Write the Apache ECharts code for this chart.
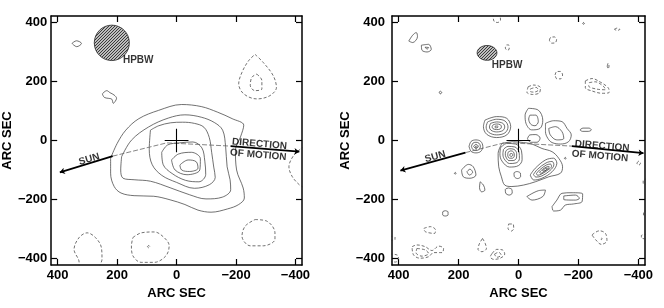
<!DOCTYPE html>
<html><head><meta charset="utf-8">
<script src="https://cdn.jsdelivr.net/npm/echarts@6/dist/echarts.min.js"></script>
<style>html,body{margin:0;padding:0;background:#fff}#c{width:664px;height:308px}</style>
</head><body><div id="c"></div>
<script>
// ---------- data (arc seconds) ----------
const tickValues = [-400, -200, 0, 200, 400];
const axisTitle = 'ARC SEC';

// left panel: positive (solid) contours
const leftSolid = [
  [[222,-60],[200,-10],[171,35],[127,74],[61,102],[-17,122],[-83,115],[-138,96],[-187,74],[-226,52],[-215,12],[-198,-32],[-202,-100],[-224,-161],[-228,-195],[-209,-217],[-171,-232],[-116,-243],[-72,-236],[-28,-217],[22,-201],[77,-189],[143,-187],[187,-178],[210,-156],[222,-111],[222,-60]],
  [[185,-55],[152,1],[94,46],[28,76],[-28,87],[-83,79],[-127,61],[-155,35],[-165,-21],[-170,-89],[-180,-133],[-182,-167],[-154,-192],[-99,-198],[-44,-184],[22,-160],[88,-138],[143,-133],[180,-128],[188,-100],[185,-55]],
  [[88,35],[60,50],[20,60],[-20,62],[-60,58],[-92,45],[-110,10],[-118,-40],[-125,-90],[-130,-125],[-110,-150],[-60,-162],[0,-142],[50,-118],[82,-82],[92,-30],[88,35]],
  [[50,-40],[30,-15],[-10,-8],[-55,-5],[-85,-25],[-95,-70],[-98,-115],[-75,-140],[-30,-135],[15,-112],[45,-82],[50,-40]],
  [[17,-66],[-6,-46],[-50,-40],[-80,-62],[-78,-100],[-35,-116],[5,-100],[17,-66]],
  [[-11,-83],[-39,-66],[-66,-72],[-72,-94],[-44,-105],[-17,-100],[-11,-83]],
  [[352,329],[337,338],[320,329],[336,318],[352,329]],
  [[250,158],[235,169],[224,162],[210,154],[202,143],[207,132],[213,126],[218,140],[230,143],[243,146],[250,158]]
];
// left panel: negative (dashed) contours
const leftDashed = [
  [[-264,292],[-292,264],[-325,220],[-336,180],[-314,152],[-270,141],[-226,158],[-209,192],[-220,231],[-242,270],[-264,292]],
  [[-270,225],[-287,203],[-287,175],[-264,169],[-248,186],[-253,214],[-270,225]],
  [[-430,-20],[-413,-32],[-391,-55],[-378,-89],[-389,-122],[-413,-150],[-430,-160]],
  [[-264,-268],[-303,-273],[-331,-313],[-331,-335],[-292,-357],[-248,-357],[-220,-324],[-231,-290],[-264,-268]],
  [[328,-430],[328,-413],[345,-369],[328,-329],[301,-313],[273,-329],[253,-363],[251,-402],[262,-430]],
  [[147,-329],[119,-313],[75,-310],[42,-329],[25,-357],[36,-391],[75,-413],[119,-413],[147,-391],[152,-357],[147,-329]],
  [[98,-360],[94,-356],[90,-360],[94,-364],[98,-360]]
];

// right panel: positive (solid) contours
const rightSolid = [
  [[366,337],[353,357],[341,366],[337,352],[353,332],[366,337]],
  [[324,323],[300,326],[291,309],[305,300],[322,306],[324,323]],
  [[312,316],[300,315],[304,310],[312,316]],
  [[265,164],[260,167],[256,162],[261,158],[265,164]],
  [[112,69],[73,81],[39,75],[26,47],[39,19],[73,10],[106,21],[117,47],[112,69]],
  [[103,63],[73,72],[45,66],[35,46],[45,26],[73,19],[100,28],[108,46],[103,63]],
  [[93,58],[73,63],[52,58],[46,46],[52,34],[73,29],[92,35],[97,46],[93,58]],
  [[85,53],[73,56],[60,53],[57,46],[61,39],[73,37],[85,40],[88,46],[85,53]],
  [[78,49],[70,49],[68,46],[72,43],[78,44],[78,49]],
  [[165,-20],[158,-3],[142,2],[126,-3],[119,-20],[126,-37],[142,-42],[158,-37],[165,-20]],
  [[157,-20],[152,-9],[142,-6],[132,-9],[127,-20],[132,-31],[142,-34],[152,-31],[157,-20]],
  [[150,-20],[142,-13],[134,-20],[142,-27],[150,-20]],
  [[145,-22],[141,-18],[138,-23],[143,-25],[145,-22]],
  [[190,-100],[167,-81],[151,-89],[142,-117],[162,-128],[184,-123],[190,-100]],
  [[172,-106],[162,-97],[153,-108],[164,-117],[172,-106]],
  [[128,-140],[117,-151],[112,-168],[123,-174],[130,-160],[128,-140]],
  [[211,-108],[208,-111],[211,-114],[214,-111],[211,-108]],
  [[-33,109],[-66,103],[-81,69],[-72,41],[-44,36],[-25,58],[-22,86],[-33,109]],
  [[-38,86],[-58,86],[-66,64],[-55,50],[-41,55],[-34,73],[-38,86]],
  [[55,-10],[68,-44],[66,-89],[57,-123],[46,-151],[22,-156],[-17,-151],[-56,-140],[-101,-123],[-140,-111],[-147,-89],[-134,-60],[-112,-38],[-78,-27],[-45,-12],[-17,-7],[16,-4],[55,-10]],
  [[60,-25],[40,-10],[10,-12],[-10,-35],[-12,-65],[0,-85],[30,-90],[55,-70],[62,-45],[60,-25]],
  [[50,-30],[35,-20],[12,-22],[-2,-40],[-3,-62],[8,-76],[30,-78],[48,-62],[52,-45],[50,-30]],
  [[42,-35],[30,-28],[15,-30],[6,-45],[7,-60],[18,-68],[32,-68],[42,-56],[44,-45],[42,-35]],
  [[35,-40],[25,-35],[16,-40],[14,-52],[20,-60],[30,-60],[36,-50],[35,-40]],
  [[28,-45],[22,-44],[19,-50],[24,-54],[29,-51],[28,-45]],
  [[-39,-117],[-56,-94],[-90,-66],[-117,-60],[-128,-77],[-112,-106],[-78,-128],[-51,-134],[-39,-117]],
  [[-50,-115],[-63,-98],[-92,-76],[-112,-71],[-118,-82],[-105,-102],[-78,-120],[-58,-124],[-50,-115]],
  [[-60,-112],[-70,-100],[-93,-83],[-107,-80],[-110,-88],[-98,-100],[-78,-113],[-64,-118],[-60,-112]],
  [[-70,-108],[-80,-98],[-95,-89],[-102,-88],[-100,-95],[-88,-103],[-75,-111],[-70,-108]],
  [[-80,-102],[-90,-95],[-96,-93],[-93,-99],[-84,-104],[-80,-102]],
  [[5,-105],[-6,-110],[-7,-122],[3,-129],[14,-122],[15,-110],[5,-105]],
  [[33,-161],[22,-166],[21,-178],[31,-185],[43,-178],[44,-166],[33,-161]],
  [[-28,-190],[-67,-170],[-90,-168],[-81,-190],[-45,-202],[-28,-190]],
  [[-112,-224],[-128,-202],[-145,-179],[-179,-177],[-214,-181],[-212,-207],[-184,-215],[-156,-219],[-140,-236],[-117,-239],[-112,-224]],
  [[-151,-188],[-190,-185],[-203,-196],[-190,-202],[-151,-200],[-151,-188]],
  [[-90,58],[-117,67],[-145,64],[-162,41],[-176,19],[-167,-4],[-140,-12],[-112,-7],[-98,7],[-90,30],[-90,58]],
  [[-101,41],[-123,47],[-145,30],[-151,7],[-128,2],[-106,19],[-101,41]],
  [[-30,6],[-38,19],[-58,20],[-72,8],[-62,-6],[-40,-6],[-30,6]],
  [[-205,36],[-215,42],[-235,42],[-243,36],[-233,31],[-213,31],[-205,36]],
  [[244,-238],[235,-242],[235,-252],[244,-256],[253,-252],[253,-242],[244,-238]],
  [[-156,-57],[-159,-60],[-156,-63],[-153,-60],[-156,-57]],
  [[-217,400],[-220,397],[-217,394],[-214,397],[-217,400]]
];
// right panel: negative (dashed) contours
const rightDashed = [
  [[40,324],[33,324],[31,310],[37,306],[44,314],[40,324]],
  [[85,430],[82,405],[70,400],[60,408],[62,430]],
  [[-103,340],[-108,350],[-120,351],[-127,342],[-122,331],[-110,330],[-103,340]],
  [[-320,377],[-329,381],[-338,377],[-329,373],[-320,377]],
  [[-296,252],[-299,262],[-302,252],[-299,243],[-296,252]],
  [[-122,222],[-128,234],[-140,234],[-147,222],[-140,209],[-128,209],[-122,222]],
  [[-32,182],[-51,188],[-73,179],[-70,162],[-47,156],[-28,164],[-32,182]],
  [[-40,175],[-59,180],[-66,171],[-51,164],[-39,167],[-40,175]],
  [[-223,202],[-245,210],[-273,198],[-299,179],[-303,164],[-279,160],[-245,168],[-223,179],[-223,202]],
  [[-236,196],[-256,199],[-284,183],[-290,172],[-262,174],[-234,185],[-236,196]],
  [[316,-298],[294,-292],[277,-303],[280,-315],[311,-309],[316,-298]],
  [[33,-283],[19,-283],[16,-298],[24,-307],[35,-298],[33,-283]],
  [[120,-332],[111,-349],[107,-366],[122,-377],[135,-369],[131,-351],[120,-332]],
  [[88,-383],[72,-369],[53,-371],[46,-385],[61,-399],[83,-403],[94,-394],[88,-383]],
  [[80,-385],[66,-379],[58,-388],[72,-396],[80,-385]],
  [[355,-360],[339,-354],[311,-360],[289,-373],[266,-358],[250,-366],[255,-380],[283,-380],[300,-394],[328,-399],[350,-388],[355,-360]],
  [[339,-366],[311,-371],[300,-383],[322,-392],[342,-380],[339,-366]],
  [[-245,-320],[-270,-306],[-290,-315],[-295,-340],[-276,-352],[-258,-337],[-245,-320]],
  [[-276,-330],[-279,-333],[-276,-336],[-273,-333],[-276,-330]],
  [[-395,-77],[-401,-70],[-407,-77],[-401,-84],[-395,-77]],
  [[-430,-130],[-416,-135],[-416,-145],[-430,-150]],
  [[-430,-238],[-417,-242],[-417,-252],[-430,-256]],
  [[-430,-318],[-410,-322],[-410,-330],[-430,-334]],
  [[430,-325],[412,-328],[412,-336],[430,-338]],
  [[430,-385],[405,-388],[400,-400],[410,-412],[430,-410]]
];

// Sun / direction-of-motion track: [thick left part], [thin middle], [thick right part]
const trackLeft  = { sun: [[393,-108],[215,-53]], mid: [[215,-53],[33,-8],[-182,-19]], motion: [[-182,-19],[-413,-38]] };
const trackRight = { sun: [[394,-102],[177,-41]], mid: [[177,-41],[44,-7],[-178,-19]], motion: [[-178,-19],[-417,-43]] };
// reference position cross (centre, half-length)
const crossCentre = [0, 0];
const crossHalf = 40;
// half-power beam ellipses: [x, y, semi-axis x, semi-axis y]
const beamLeft = [[218, 331, 59, 60]];
const beamRight = [[105, 297, 33, 25]];
// annotations: [x, y, text, rotation]
const notesLeft = [[129,273,'HPBW',0],[294,-64,'SUN',16],[-279,-12,'DIRECTION',-5],[-275,-49,'OF MOTION',-5]];
const notesRight = [[38,256,'HPBW',0],[278,-55,'SUN',16],[-279,-19,'DIRECTION',-5],[-272,-53,'OF MOTION',-5]];

// ---------- chart ----------
const FONT = '"Liberation Sans", Arial, Helvetica, sans-serif';
const chart = echarts.init(document.getElementById('c'), null, {renderer: 'canvas'});

const hatch = document.createElement('canvas');
hatch.width = 3; hatch.height = 3;
(function(){const g = hatch.getContext('2d');
  g.fillStyle = '#bdbdbd'; g.fillRect(0,0,3,3);
  g.fillStyle = '#3a3a3a';
  g.fillRect(0,2,1,1); g.fillRect(1,1,1,1); g.fillRect(2,0,1,1);})();

const fmt = v => String(v).replace('-', '\u2212');
function xAxisDef(gi, pos, main) {
  return {
    type: 'value', gridIndex: gi, position: pos, inverse: true, min: -422, max: 422,
    splitLine: {show: false},
    axisLine: {show: true, onZero: false, lineStyle: {color: '#000', width: 1.5}},
    axisTick: {show: true, inside: true, length: 6, customValues: tickValues, lineStyle: {color: '#000', width: 1.2}},
    axisLabel: {show: main, customValues: tickValues, margin: 4, color: '#000', fontSize: 13, fontWeight: 'bold', fontFamily: FONT, formatter: fmt},
    name: main ? axisTitle : '', nameLocation: 'middle', nameGap: 21,
    nameTextStyle: {color: '#000', fontSize: 13, fontWeight: 'bold', fontFamily: FONT}
  };
}
function yAxisDef(gi, pos, main, margin, gap) {
  return {
    type: 'value', gridIndex: gi, position: pos, min: -422, max: 422,
    splitLine: {show: false},
    axisLine: {show: true, onZero: false, lineStyle: {color: '#000', width: 1.5}},
    axisTick: {show: true, inside: true, length: 6, customValues: tickValues, lineStyle: {color: '#000', width: 1.2}},
    axisLabel: {show: main, customValues: tickValues, margin: margin, color: '#000', fontSize: 13, fontWeight: 'bold', fontFamily: FONT, formatter: fmt},
    name: main ? axisTitle : '', nameLocation: 'middle', nameGap: gap, nameRotate: 90,
    nameTextStyle: {color: '#000', fontSize: 13, fontWeight: 'bold', fontFamily: FONT}
  };
}

const series = [];
function addContours(list, gi, dashed) {
  list.forEach(pts => series.push({
    type: 'line', xAxisIndex: gi * 2, yAxisIndex: gi * 2, data: pts,
    showSymbol: false, symbol: 'none', smooth: 0.35, silent: true, z: 3,
    lineStyle: {color: '#333', width: 0.7, type: dashed ? [3, 2] : 'solid'}
  }));
}
function addPanelExtras(gi, track, beam, notes) {
  const ax = {xAxisIndex: gi * 2, yAxisIndex: gi * 2};
  series.push(Object.assign({
    type: 'line', data: track.mid, showSymbol: false, symbol: 'none', silent: true, z: 4,
    lineStyle: {color: '#666', width: 0.8, type: [5, 2]}
  }, ax));
  series.push(Object.assign({
    type: 'lines', coordinateSystem: 'cartesian2d', silent: true, z: 5,
    symbol: ['arrow', 'none'], symbolSize: [5, 12],
    lineStyle: {color: '#000', width: 1.7, opacity: 1},
    data: [{coords: track.sun}, {coords: track.motion.slice().reverse()}]
  }, ax));
  series.push(Object.assign({
    type: 'lines', coordinateSystem: 'cartesian2d', silent: true, z: 5,
    symbol: ['none', 'none'],
    lineStyle: {color: '#000', width: 1.1, opacity: 1},
    data: [
      {coords: [[crossCentre[0] + crossHalf, crossCentre[1]], [crossCentre[0] - crossHalf, crossCentre[1]]]},
      {coords: [[crossCentre[0], crossCentre[1] + crossHalf], [crossCentre[0], crossCentre[1] - crossHalf]]}
    ]
  }, ax));
  series.push(Object.assign({
    type: 'custom', data: beam, silent: true, z: 6,
    renderItem: function (params, api) {
      const c = api.coord([api.value(0), api.value(1)]);
      const s = api.size([api.value(2), api.value(3)]);
      return {type: 'ellipse', shape: {cx: c[0], cy: c[1], rx: s[0], ry: s[1]},
              style: {fill: {image: hatch, repeat: 'repeat'}, stroke: '#222', lineWidth: 0.8}};
    }
  }, ax));
  series.push(Object.assign({
    type: 'scatter', symbolSize: 0, silent: true, z: 7,
    data: notes.map(n => ({value: [n[0], n[1]], name: n[2],
      label: {show: true, position: 'inside', formatter: n[2], rotate: n[3],
              color: '#000', fontSize: 10, fontWeight: 'bold', fontFamily: FONT}}))
  }, ax));
}

addContours(leftSolid, 0, false);
addContours(leftDashed, 0, true);
addContours(rightSolid, 1, false);
addContours(rightDashed, 1, true);
addPanelExtras(0, trackLeft, beamLeft, notesLeft);
addPanelExtras(1, trackRight, beamRight, notesRight);

chart.setOption({
  animation: false,
  backgroundColor: '#fff',
  grid: [
    {left: 49, top: 16, width: 253, height: 249, containLabel: false},
    {left: 392, top: 16, width: 253, height: 249, containLabel: false}
  ],
  xAxis: [xAxisDef(0, 'bottom', true), xAxisDef(0, 'top', false), xAxisDef(1, 'bottom', true), xAxisDef(1, 'top', false)],
  yAxis: [yAxisDef(0, 'left', true, 4, 25), yAxisDef(0, 'right', false, 4, 25), yAxisDef(1, 'left', true, 7, 30), yAxisDef(1, 'right', false, 4, 25)],
  series: series
});
</script>
</body></html>
